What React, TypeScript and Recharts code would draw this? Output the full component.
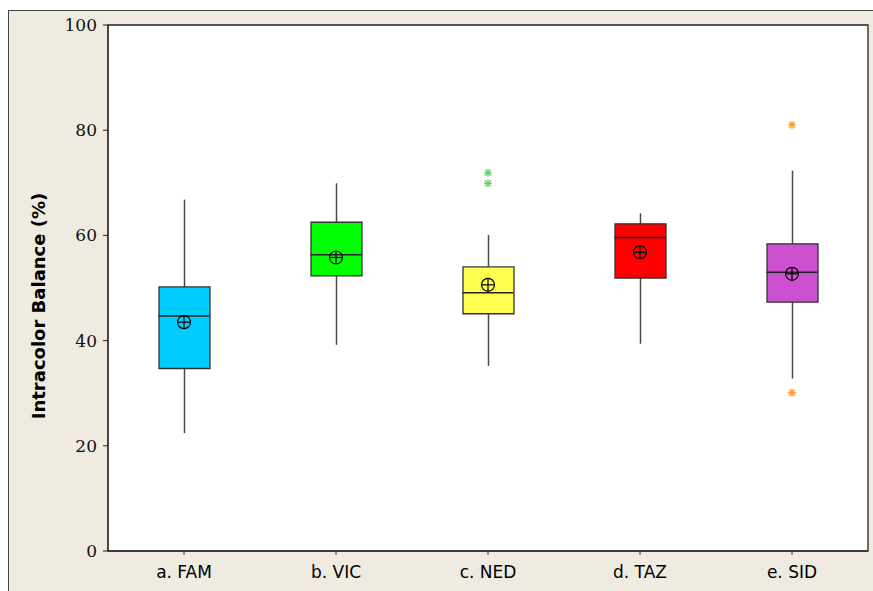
import {
  Bar,
  CartesianGrid,
  Cell,
  ComposedChart,
  ReferenceArea,
  Scatter,
  XAxis,
  YAxis,
} from 'recharts'

const CATEGORIES = ['a. FAM', 'b. VIC', 'c. NED', 'd. TAZ', 'e. SID']
const WHISKER_LOW = [22.4, 39.2, 35.2, 39.4, 32.8]
const Q1 = [34.7, 52.3, 45.1, 51.9, 47.3]
const MEDIAN = [44.7, 56.3, 49.1, 59.6, 53.0]
const Q3 = [50.2, 62.5, 54.0, 62.2, 58.4]
const WHISKER_HIGH = [66.8, 69.9, 60.1, 64.2, 72.3]
const MEAN = [43.5, 55.8, 50.6, 56.8, 52.7]
const OUTLIER_A: (number | null)[] = [null, null, 71.9, null, 81.0]
const OUTLIER_B: (number | null)[] = [null, null, 69.9, null, 30.1]
const Y_TICKS = [0, 20, 40, 60, 80, 100]

const BOX_COLORS = ['#00ccff', '#00ff00', '#ffff4f', '#ff0000', '#cc50d0']
const OUTLIER_COLORS = ['#66cc66', '#66cc66', '#66cc66', '#66cc66', '#ff9a1f']

const BOX_WIDTH = 51

const data = CATEGORIES.map((name, i) => ({
  name,
  whisker: [WHISKER_LOW[i], WHISKER_HIGH[i]],
  box: [Q1[i], Q3[i]],
  median: MEDIAN[i],
  mean: MEAN[i],
  outA: OUTLIER_A[i],
  outB: OUTLIER_B[i],
  color: OUTLIER_COLORS[i],
}))

function WhiskerShape(props: any) {
  const { x, y, width, height } = props
  const cx = x + width / 2
  return <line x1={cx} x2={cx} y1={y} y2={y + height} stroke="#4a4a4a" strokeWidth={1.5} />
}

function MedianShape(props: any) {
  const { cx, cy } = props
  if (cx == null || cy == null) return null
  return (
    <line
      x1={cx - BOX_WIDTH / 2}
      x2={cx + BOX_WIDTH / 2}
      y1={cy}
      y2={cy}
      stroke="#222"
      strokeWidth={1.5}
    />
  )
}

function MeanShape(props: any) {
  const { cx, cy } = props
  if (cx == null || cy == null) return null
  const r = 6.5
  return (
    <g stroke="#000" strokeWidth={1.2} fill="none">
      <circle cx={cx} cy={cy} r={r} />
      <line x1={cx - r} x2={cx + r} y1={cy} y2={cy} />
      <line x1={cx} x2={cx} y1={cy - r} y2={cy + r} />
    </g>
  )
}

function StarShape(props: any) {
  const { cx, cy, payload } = props
  if (cx == null || cy == null || Number.isNaN(cy)) return null
  const s = 4
  return (
    <g stroke={payload.color} strokeWidth={1.3}>
      <line x1={cx} x2={cx} y1={cy - s} y2={cy + s} />
      <line x1={cx - s} x2={cx + s} y1={cy} y2={cy} />
      <line x1={cx - s * 0.75} x2={cx + s * 0.75} y1={cy - s * 0.75} y2={cy + s * 0.75} />
      <line x1={cx - s * 0.75} x2={cx + s * 0.75} y1={cy + s * 0.75} y2={cy - s * 0.75} />
    </g>
  )
}

function YTitle(props: any) {
  const x = 36
  const y = 295
  return (
    <text
      x={x}
      y={y}
      transform={`rotate(-90, ${x}, ${y})`}
      textAnchor="middle"
      fontFamily="DejaVu Sans"
      fontWeight="bold"
      fontSize={18}
      fill="#000"
    >
      Intracolor Balance (%)
    </text>
  )
}

export default function App() {
  return (
    <>
      <style>{'body{margin:0;overflow:hidden}'}</style>
      <div
        style={{
          marginLeft: 8,
          marginTop: 10,
          width: 865,
          height: 581,
          boxSizing: 'border-box',
          borderLeft: '1px solid #444',
          borderTop: '1px solid #444',
          background: '#efebe1',
        }}
      >
        <ComposedChart
          width={864}
          height={580}
          data={data}
          margin={{ top: 14, right: 5, left: 39, bottom: 6 }}
        >
          <CartesianGrid horizontal={false} vertical={false} fill="#ffffff" />
          <XAxis
            dataKey="name"
            height={34}
            tickSize={4}
            tickMargin={11}
            stroke="#222"
            tick={{ fill: '#000', fontSize: 17, fontFamily: 'DejaVu Sans' }}
          />
          <XAxis xAxisId="w" dataKey="name" hide />
          <YAxis
            domain={[0, 100]}
            ticks={Y_TICKS}
            width={60}
            tickSize={5}
            tickMargin={6}
            stroke="#222"
            tick={{ fill: '#111', fontSize: 17, fontFamily: 'DejaVu Serif' }}
            label={<YTitle />}
          />
          <ReferenceArea y1={0} y2={100} fill="none" stroke="#222" strokeWidth={1.3} />
          <Bar
            xAxisId="w"
            dataKey="whisker"
            barSize={BOX_WIDTH}
            shape={<WhiskerShape />}
            isAnimationActive={false}
          />
          <Bar
            dataKey="box"
            barSize={BOX_WIDTH}
            stroke="#333"
            strokeWidth={1.3}
            isAnimationActive={false}
          >
            {data.map((_, i) => (
              <Cell key={i} fill={BOX_COLORS[i]} />
            ))}
          </Bar>
          <Scatter dataKey="median" shape={<MedianShape />} isAnimationActive={false} />
          <Scatter dataKey="mean" shape={<MeanShape />} isAnimationActive={false} />
          <Scatter dataKey="outA" shape={<StarShape />} isAnimationActive={false} />
          <Scatter dataKey="outB" shape={<StarShape />} isAnimationActive={false} />
        </ComposedChart>
      </div>
    </>
  )
}
